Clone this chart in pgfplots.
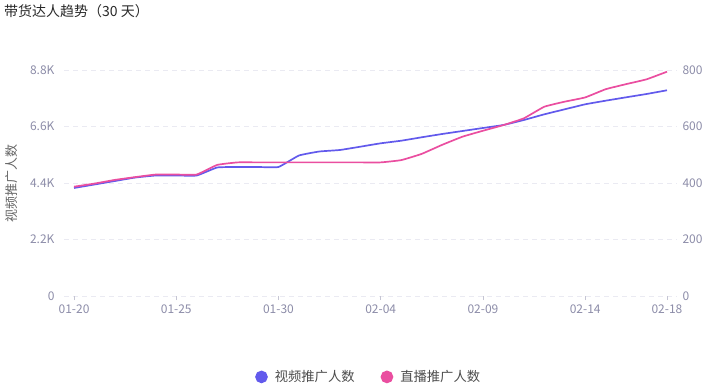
\documentclass[border=0pt]{standalone}
\usepackage{fontspec}
\setmainfont{Noto Sans CJK SC}
\usepackage{pgfplots}
\pgfplotsset{compat=1.18}
\definecolor{vblue}{RGB}{98,90,236}
\definecolor{lpink}{RGB}{234,78,160}
\definecolor{ticktxt}{RGB}{140,140,168}
\definecolor{gridc}{RGB}{234,234,242}
\definecolor{titlec}{RGB}{40,40,40}
\begin{document}
\begin{tikzpicture}
\useasboundingbox (0,0) rectangle (716pt,389pt);
\node[anchor=west, text=titlec, font=\fontsize{14}{16}\selectfont, inner sep=0pt] at (4pt,378pt) {带货达人趋势（30 天）};
\pgfplotsset{
  every axis/.append style={
    scale only axis, width=613pt, height=226pt,
    at={(64pt,93pt)}, anchor=south west,
    xmin=-0.49, xmax=29.49,
    ymin=0,
    tick label style={font=\fontsize{12}{14}\selectfont, text=ticktxt},
    /pgf/number format/assume math mode=true,
    clip=false,
  }
}
\begin{axis}[
  axis x line*=bottom, axis y line*=left,
  x axis line style={draw=none},
  y axis line style={draw=none},
  ymax=8800,
  ytick={0,2200,4400,6600,8800},
  yticklabels={0,2.2K,4.4K,6.6K,8.8K},
  ymajorgrids, grid style={gridc, dash pattern=on 5pt off 4pt, line width=0.8pt},
  major y tick style={draw=none},
  xtick={0,5,10,15,20,25,29},
  xticklabels={01-20,01-25,01-30,02-04,02-09,02-14,02-18},
  major x tick style={draw=ticktxt!50, line width=0.6pt},
  major tick length=4pt,
  tick align=outside,
  xticklabel style={yshift=-1pt},
  yticklabel style={xshift=-2pt},
  ylabel={视频推广人数},
  ylabel style={at={(axis description cs:-0.085,0.5)}, anchor=center, font=\fontsize{13}{15}\selectfont, text=black!60},
]
\addplot[color=vblue, line width=1.7pt, smooth, tension=0.22] coordinates {
(0,4206) (1,4342) (2,4478) (3,4614) (4,4692) (5,4692) (6,4692) (7,5004)
(8,5023) (9,5023) (10,5023) (11,5471) (12,5627) (13,5685) (14,5814) (15,5946)
(16,6047) (17,6180) (18,6308) (19,6425) (20,6542) (21,6659) (22,6853) (23,7075)
(24,7270) (25,7465) (26,7605) (27,7737) (28,7866) (29,8010)
};
\end{axis}
\begin{axis}[
  axis x line=none, axis y line*=right,
  y axis line style={draw=none},
  ymax=800,
  ytick={0,200,400,600,800},
  major y tick style={draw=none},
  yticklabel style={xshift=2pt},
  legend style={at={(axis description cs:0.497,-0.358)}, anchor=center, draw=none, fill=none,
    font=\fontsize{13.3}{15}\selectfont, text=black!70,
    legend columns=2,
    /tikz/every odd column/.append style={column sep=5pt},
    /tikz/every even column/.append style={column sep=24pt}},
  legend cell align=left,
  legend image code/.code={\fill (0pt,0pt) circle (5.5pt);},
]
\addlegendimage{color=vblue, line width=1.6pt}
\addlegendentry{视频推广人数}
\addplot[color=lpink, line width=1.7pt, smooth, tension=0.22] coordinates {
(0,387) (1,398) (2,411) (3,421) (4,430) (5,430) (6,430) (7,464)
(8,473) (9,473) (10,473) (11,473) (12,473) (13,473) (14,473) (15,473)
(16,481) (17,503) (18,535) (19,564) (20,585) (21,605) (22,629) (23,670)
(24,688) (25,703) (26,732) (27,750) (28,767) (29,794)
};
\addlegendentry{直播推广人数}
\end{axis}
\end{tikzpicture}
\end{document}
